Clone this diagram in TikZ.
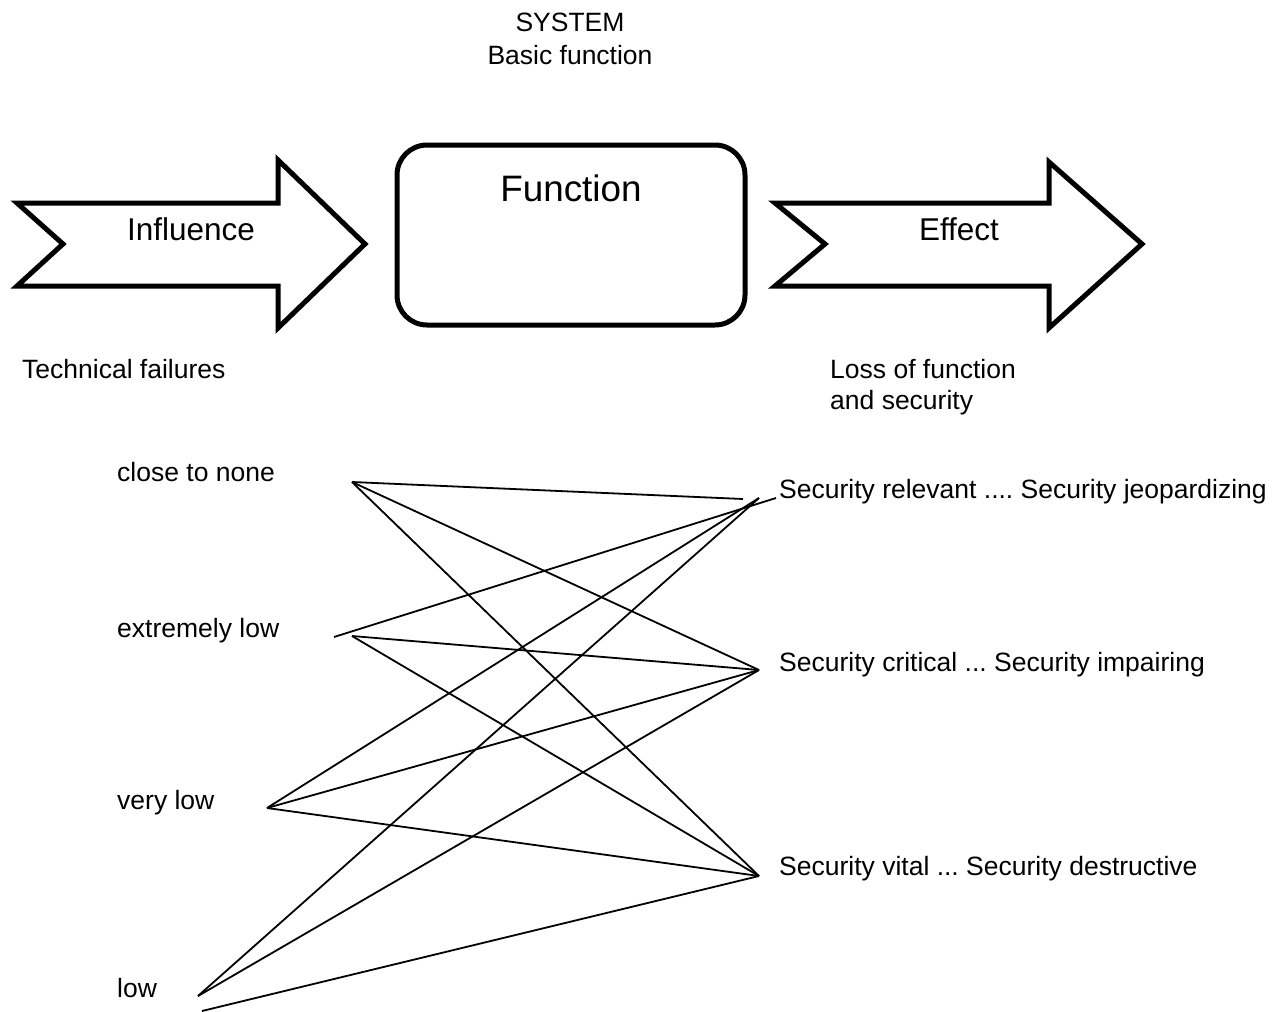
\documentclass[tikz,border=0pt]{standalone}
\usepackage{fontspec}
\setmainfont{Liberation Sans}
\frenchspacing
\begin{document}
\begin{tikzpicture}[x=1pt,y=-1pt,
  bigarrow/.style={draw=black,line width=5pt,line join=miter,fill=white},
  funcbox/.style={draw=black,line width=5pt,rounded corners=30pt,fill=white},
  label/.style={inner sep=0pt,font=\fontsize{26.5}{31}\selectfont},
  arrowtext/.style={inner sep=0pt,font=\fontsize{31.5}{36}\selectfont},
  link/.style={draw=black,line width=1.8pt}]
\useasboundingbox[fill=white] (0,0) rectangle (1288,1012);

% header
\node[label,anchor=base] (sys) at (570,31.5) {SYSTEM};
\node[label,anchor=base] (basic) at (570,64) {Basic function};

% influence arrow, function block, effect arrow
\draw[bigarrow] (17,203) -- (63,244) -- (17,286) -- (278,286) -- (278,328)
  -- (365,244) -- (278,160) -- (278,203) -- cycle;
\node[arrowtext,anchor=base] (infl) at (191,240) {Influence};

\draw[funcbox] (397,145) rectangle (745,325);
\node[inner sep=0pt,anchor=base,font=\fontsize{36.8}{42}\selectfont] (func) at (571,201) {Function};

\draw[bigarrow] (775,203) -- (825,244) -- (775,286) -- (1049,286) -- (1049,328)
  -- (1142,244) -- (1049,162) -- (1049,203) -- cycle;
\node[arrowtext,anchor=base] (eff) at (959,240) {Effect};

% column headings
\node[label,anchor=base west] (tech) at (22,378) {Technical failures};
\node[label,anchor=base west] (loss) at (830,378) {Loss of function};
\node[label,anchor=base west] (losssec) at (830,409) {and security};

% probability levels
\node[label,anchor=base west] (none) at (117,481) {close to none};
\node[label,anchor=base west] (exlow) at (117,637) {extremely low};
\node[label,anchor=base west] (vlow) at (117,809) {very low};
\node[label,anchor=base west] (low) at (117,997) {low};

% consequence classes
\node[label,anchor=base west] (rel) at (779,498) {Security relevant .... Security jeopardizing};
\node[label,anchor=base west] (crit) at (779,671) {Security critical ... Security impairing};
\node[label,anchor=base west] (vital) at (779,875) {Security vital ... Security destructive};

% connector end points
\coordinate (pNone) at (352,482);
\coordinate (pExA) at (334,637);
\coordinate (pExB) at (352,636);
\coordinate (pVlow) at (267,808);
\coordinate (pLow) at (198,996);
\coordinate (pLowB) at (202,1011);
\coordinate (qRelA) at (743,499);
\coordinate (qRelB) at (776,498);
\coordinate (qRel) at (759,498);
\coordinate (qCrit) at (759,670);
\coordinate (qVital) at (759,876);

% links between levels and classes
\draw[link] (pNone) -- (qRelA);
\draw[link] (pNone) -- (qCrit);
\draw[link] (pNone) -- (qVital);
\draw[link] (pExA) -- (qRelB);
\draw[link] (pExB) -- (qCrit);
\draw[link] (pExB) -- (qVital);
\draw[link] (pVlow) -- (qRel);
\draw[link] (pVlow) -- (qCrit);
\draw[link] (pVlow) -- (qVital);
\draw[link] (pLow) -- (qRel);
\draw[link] (pLow) -- (qCrit);
\draw[link] (pLowB) -- (qVital);
\end{tikzpicture}
\end{document}
